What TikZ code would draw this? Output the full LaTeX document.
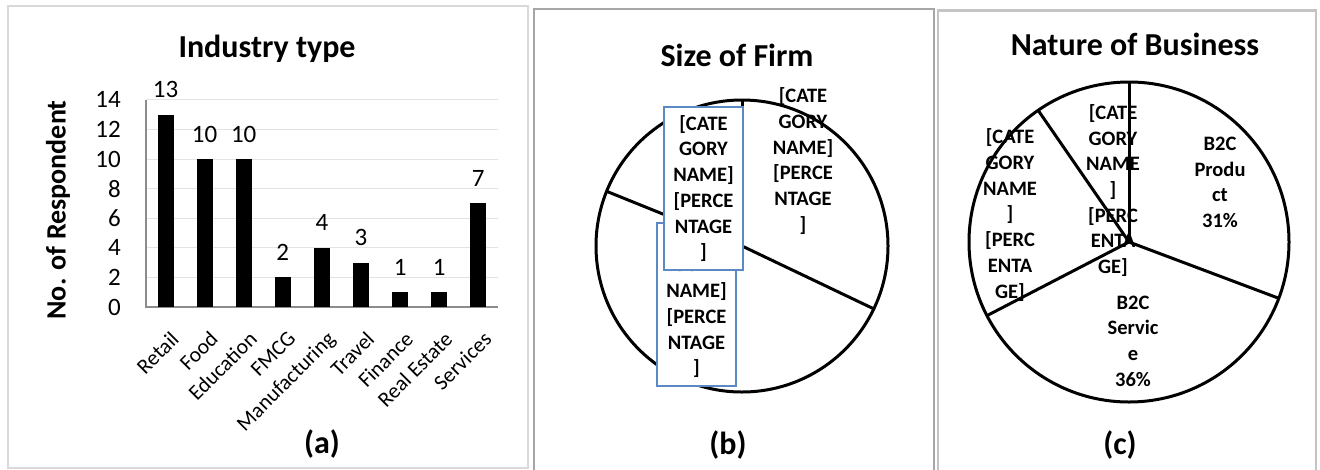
\documentclass[tikz,border=0pt]{standalone}
\usepackage{fontspec}
\setmainfont{Carlito}
\definecolor{gridgray}{HTML}{E3E3E3}
\definecolor{axisgray}{HTML}{8C8C8C}
\definecolor{panelA}{HTML}{D9D9D9}
\definecolor{panelB}{HTML}{A6A6A6}
\definecolor{panelC}{HTML}{C4C4C4}
\definecolor{boxblue}{HTML}{5B89C4}
\begin{document}
\begin{tikzpicture}[x=1pt,y=-1pt,
  ttl/.style={font=\fontsize{32}{36}\selectfont\bfseries, anchor=base, inner sep=0pt},
  tick/.style={font=\fontsize{25}{28}\selectfont, anchor=east, inner sep=0pt},
  val/.style={font=\fontsize{25}{28}\selectfont, inner sep=0pt},
  cat/.style={font=\fontsize{21.5}{24}\selectfont, rotate=45, anchor=north east, inner sep=0pt},
  gridline/.style={draw=gridgray, line width=1pt},
  axisline/.style={draw=axisgray, line width=1.2pt},
  pie/.style={line width=3pt},
  plab/.style={font=\fontsize{20.5}{25.7}\selectfont\bfseries, align=center, inner sep=0pt},
  bluebox/.style={draw=boxblue, line width=2pt, fill=white, minimum width=79pt, minimum height=163pt, inner sep=0pt, align=center, font=\fontsize{20.5}{25.7}\selectfont\bfseries}
]
\useasboundingbox (0,0) rectangle (1320,469);
\fill[white] (0,0) rectangle (1320,469);
% panel frames
\draw[draw=panelA, line width=2pt] (8,6) rectangle (528,468);
\draw[draw=panelB, line width=2.5pt] (534,9) rectangle (934,480);
\draw[draw=panelC, line width=2.5pt] (938,10.5) rectangle (1316,480);

% ---------------- (a) bar chart
\node[ttl] (ta) at (267,57) {Industry type};
\foreach \g in {2,4,...,14}{
  \draw[gridline] (146,307-14.8*\g) -- (498,307-14.8*\g);
}
\foreach \g in {0,2,...,14}{
  \node[tick] (y\g) at (121,307-14.8*\g) {\g};
}
\draw[axisline] (146,100) -- (146,307) -- (498,307);
\node[font=\fontsize{28}{32}\selectfont\bfseries, rotate=90, inner sep=0pt] (ylab) at (58,210) {No. of Respondent};
\foreach \v/\n [count=\i from 0] in {13/Retail,10/Food,10/Education,2/FMCG,4/Manufacturing,3/Travel,1/Finance,1/Real Estate,7/Services}{
  \pgfmathsetmacro\cx{165.5+39.1*\i}
  \pgfmathsetmacro\ty{307-14.8*\v}
  \fill (\cx-8,307) rectangle (\cx+8,\ty);
  \node[val] (v\i) at (\cx,\ty-25) {\v};
  \node[cat] (c\i) at (\cx+4,330) {\n};
}
\node[ttl] (la) at (322,453) {(a)};

% ---------------- (b) pie
\node[ttl] (tb) at (737,66) {Size of Firm};
\coordinate (cb) at (742,246);
\draw[pie] (cb) circle[radius=146];
\draw[pie] (cb) -- ++(-90:146);
\draw[pie] (cb) -- ++(25.5:146);
\draw[pie] (cb) -- ++(-158:146);
\node[plab] (b1) at (803,161) {[CATE\\GORY\\NAME]\\{[PERCE}\\NTAGE\\]};
\node[bluebox] (b3) at (696.5,304.5) {[CATE\\GORY\\NAME]\\{[PERCE}\\NTAGE\\]};
\node[bluebox] (b2) at (703.5,188.5) {[CATE\\GORY\\NAME]\\{[PERCE}\\NTAGE\\]};
\node[ttl] (lb) at (728,454) {(b)};

% ---------------- (c) pie
\node[ttl] (tc) at (1135,55) {Nature of Business};
\coordinate (cc) at (1129,242);
\draw[pie] (cc) circle[radius=160];
\draw[pie] (cc) -- ++(-90:160);
\draw[pie] (cc) -- ++(-124.6:160);
\draw[pie] (cc) -- ++(152.6:160);
\draw[pie] (cc) -- ++(20.6:160);
\node[plab] (c1) at (1220,182.5) {B2C\\Produ\\ct\\31\%};
\node[plab] (c2) at (1133,341) {B2C\\Servic\\e\\36\%};
\node[plab] (c3) at (1010,215) {[CATE\\GORY\\NAME\\]\\{[PERC}\\ENTA\\GE]};
\node[plab] (c4) at (1113,190.5) {[CATE\\GORY\\NAME\\]\\{[PERC}\\ENTA\\GE]};
\node[ttl] (lc) at (1120,454) {(c)};
\end{tikzpicture}
\end{document}
